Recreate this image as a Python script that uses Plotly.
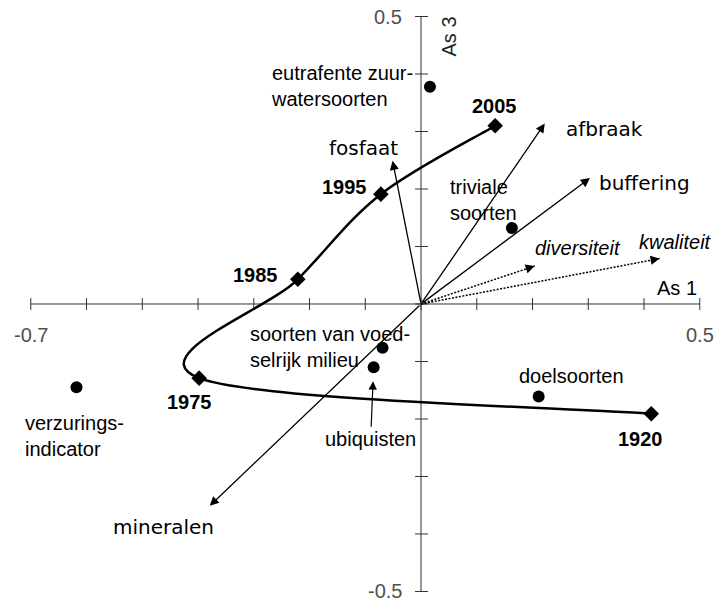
import plotly.graph_objects as go

# ---- axes -------------------------------------------------------------
x_ticks = [-0.7, -0.6, -0.5, -0.4, -0.3, -0.2, -0.1, 0.0, 0.1, 0.2, 0.3, 0.4, 0.5]
y_ticks = [-0.5, -0.4, -0.3, -0.2, -0.1, 0.0, 0.1, 0.2, 0.3, 0.4, 0.5]
x_tick_text = {-0.7: "-0.7", 0.5: "0.5"}
y_tick_text = {0.5: "0.5", -0.5: "-0.5"}

# ---- trajectory of the sampling years --------------------------------
years = ["1920", "1975", "1985", "1995", "2005"]
year_x = [0.413, -0.398, -0.221, -0.072, 0.133]
year_y = [-0.191, -0.129, 0.043, 0.191, 0.310]

# ---- species groups ---------------------------------------------------
groups = ["eutrafente zuur-<br>watersoorten", "triviale<br>soorten",
          "soorten van voed-<br>selrijk milieu", "ubiquisten",
          "doelsoorten", "verzurings-<br>indicator"]
group_x = [0.016, 0.163, -0.069, -0.085, 0.211, -0.618]
group_y = [0.378, 0.132, -0.076, -0.110, -0.161, -0.145]

# ---- environmental variables (solid arrows) ---------------------------
env_names = ["afbraak", "buffering", "fosfaat", "mineralen"]
env_x = [0.222, 0.303, -0.051, -0.379]
env_y = [0.314, 0.219, 0.249, -0.351]

# ---- quality measures (dotted arrows) ---------------------------------
qual_names = ["diversiteit", "kwaliteit"]
qual_x = [0.204, 0.428]
qual_y = [0.066, 0.079]

# label placement (anchor, pixel offsets from the mark)
year_offsets = [(-11, -25), (-10, -24), (-42, 4), (-36, 7), (-1, 20)]
group_offsets = [("right", -15, 1), ("left", -64, 28), ("left", -135, 1),
                 None, ("center", 33, 21), ("left", -53, -49)]
env_offsets = [("left", 19, -6), ("left", 7, -5), ("center", -29, 13), ("center", -46, -21)]
qual_offsets = [(43, 18), (16, 17)]

ARIAL = "Liberation Sans, Arial, sans-serif"
HAND = "DejaVu Sans, sans-serif"
FS = 20
INK = "#000000"
AXIS = "#333333"
TICKLBL = "#505050"


def smooth_path(xs, ys):
    """Cubic Bezier path through the points (Catmull-Rom style smoothing)."""
    n = len(xs)
    px = [xs[0]] + list(xs) + [xs[-1]]
    py = [ys[0]] + list(ys) + [ys[-1]]
    d = "M %.5f,%.5f" % (xs[0], ys[0])
    for i in range(1, n):
        c1x = px[i] + (px[i + 1] - px[i - 1]) / 6.0
        c1y = py[i] + (py[i + 1] - py[i - 1]) / 6.0
        c2x = px[i + 1] - (px[i + 2] - px[i]) / 6.0
        c2y = py[i + 1] - (py[i + 2] - py[i]) / 6.0
        d += " C %.5f,%.5f %.5f,%.5f %.5f,%.5f" % (c1x, c1y, c2x, c2y, px[i + 1], py[i + 1])
    return d


fig = go.Figure()

# diamonds at the sampling years
fig.add_trace(go.Scatter(
    x=year_x, y=year_y, mode="markers",
    marker=dict(symbol="diamond", size=12, color=INK),
    hoverinfo="skip"))

# species groups
fig.add_trace(go.Scatter(
    x=group_x, y=group_y, mode="markers",
    marker=dict(symbol="circle", size=12, color=INK),
    hoverinfo="skip"))

# dotted quality vectors
for qx, qy in zip(qual_x, qual_y):
    fig.add_trace(go.Scatter(
        x=[0, qx], y=[0, qy], mode="lines",
        line=dict(color=INK, width=1.5, dash="2px,1.5px"),
        hoverinfo="skip"))

shapes = []
# axis lines
shapes.append(dict(type="line", xref="x", yref="y", x0=x_ticks[0], x1=x_ticks[-1],
                   y0=0, y1=0, layer="below", line=dict(color=AXIS, width=1)))
shapes.append(dict(type="line", xref="x", yref="y", x0=0, x1=0,
                   y0=y_ticks[0], y1=y_ticks[-1], layer="below", line=dict(color=AXIS, width=1)))
# tick marks crossing the axes
for t in x_ticks:
    shapes.append(dict(type="line", xref="x", yref="y", ysizemode="pixel", yanchor=0,
                       x0=t, x1=t, y0=-6, y1=6, layer="below", line=dict(color=AXIS, width=1)))
for t in y_ticks:
    shapes.append(dict(type="line", xref="x", yref="y", xsizemode="pixel", xanchor=0,
                       x0=-6, x1=7, y0=t, y1=t, layer="below", line=dict(color=AXIS, width=1)))

# smoothed trajectory through the years
shapes.append(dict(type="path", xref="x", yref="y", path=smooth_path(year_x, year_y),
                   layer="below", line=dict(color=INK, width=2.5)))

ann = []
for t, s in x_tick_text.items():
    ann.append(dict(x=t, y=0, xref="x", yref="y", text=s, showarrow=False,
                    yshift=-31, font=dict(family=ARIAL, size=FS, color=TICKLBL)))
for t, s in y_tick_text.items():
    ann.append(dict(x=0, y=t, xref="x", yref="y", text=s, showarrow=False,
                    xanchor="right", xshift=-17, font=dict(family=ARIAL, size=FS, color=TICKLBL)))

# axis titles
ann.append(dict(x=0, y=0.5, xref="x", yref="y", text="As 3", showarrow=False,
                textangle=-90, xshift=27, yshift=-20,
                font=dict(family=ARIAL, size=FS, color="#222222")))
ann.append(dict(x=0.5, y=0, xref="x", yref="y", text="As 1", showarrow=False,
                xshift=-23, yshift=16, font=dict(family=ARIAL, size=FS, color=INK)))

# year labels
for yr, xv, yv, (dx, dy) in zip(years, year_x, year_y, year_offsets):
    ann.append(dict(x=xv, y=yv, xref="x", yref="y", text="<b>%s</b>" % yr,
                    showarrow=False, xshift=dx, yshift=dy,
                    font=dict(family=ARIAL, size=FS, color=INK)))

# species group labels
for name, xv, yv, off in zip(groups, group_x, group_y, group_offsets):
    if off is None:
        ann.append(dict(x=xv, y=yv, xref="x", yref="y", text=name,
                        showarrow=True, arrowhead=2, arrowsize=1.4, arrowwidth=1.2,
                        arrowcolor=INK, ax=-3, ay=72, standoff=14,
                        font=dict(family=ARIAL, size=FS, color=INK)))
    else:
        anchor, dx, dy = off
        ann.append(dict(x=xv, y=yv, xref="x", yref="y", text=name, showarrow=False,
                        xanchor=anchor, align="left", xshift=dx, yshift=dy,
                        font=dict(family=ARIAL, size=FS, color=INK)))

# environmental vectors from the origin
for name, xv, yv, (anchor, dx, dy) in zip(env_names, env_x, env_y, env_offsets):
    ann.append(dict(x=xv, y=yv, xref="x", yref="y", ax=0, ay=0, axref="x", ayref="y",
                    text="", showarrow=True, arrowhead=2, arrowsize=1.4,
                    arrowwidth=1.3, arrowcolor=INK, standoff=0))
    ann.append(dict(x=xv, y=yv, xref="x", yref="y", text=name, showarrow=False,
                    xanchor=anchor, xshift=dx, yshift=dy,
                    font=dict(family=HAND, size=FS, color=INK)))

# heads and labels of the dotted vectors
for name, xv, yv, (dx, dy) in zip(qual_names, qual_x, qual_y, qual_offsets):
    ann.append(dict(x=xv, y=yv, xref="x", yref="y", ax=xv * 0.96, ay=yv * 0.96,
                    axref="x", ayref="y", text="", showarrow=True, arrowhead=2,
                    arrowsize=1.4, arrowwidth=1.3, arrowcolor=INK, standoff=0))
    ann.append(dict(x=xv, y=yv, xref="x", yref="y", text="<i>%s</i>" % name,
                    showarrow=False, xshift=dx, yshift=dy,
                    font=dict(family=ARIAL, size=FS, color=INK)))

fig.update_layout(
    width=717, height=602,
    margin=dict(l=0, r=0, t=0, b=0),
    paper_bgcolor="white", plot_bgcolor="white",
    showlegend=False,
    xaxis=dict(visible=False, range=[-0.7552, 0.5309]),
    yaxis=dict(visible=False, range=[-0.5183, 0.5287]),
    shapes=shapes, annotations=ann,
)

fig.write_html("out.html")
